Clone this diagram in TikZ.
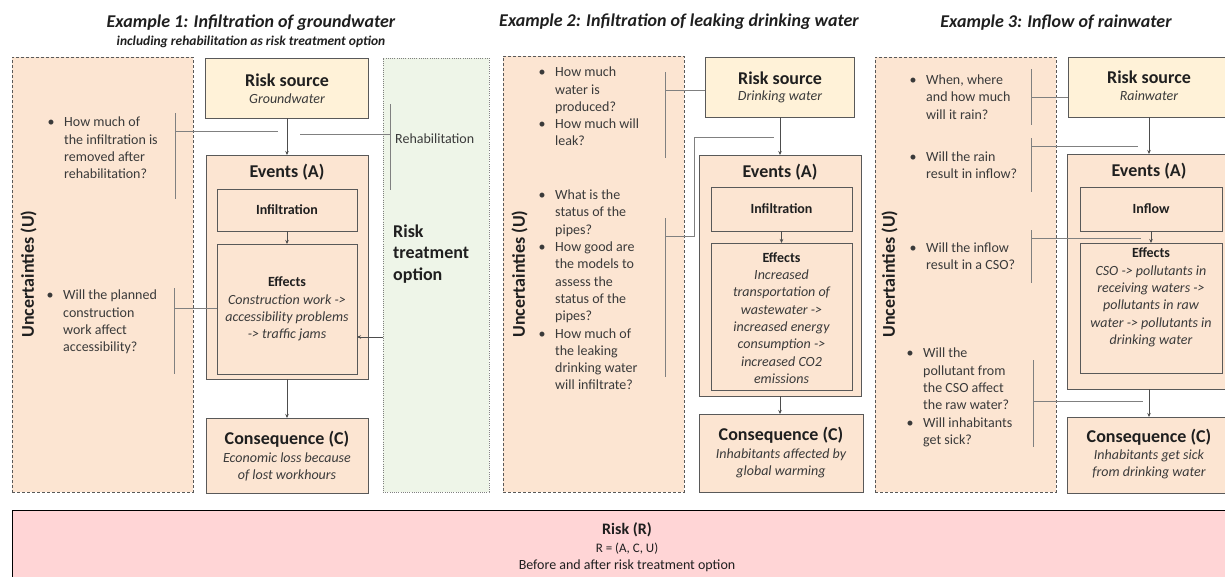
\documentclass[tikz,border=0pt]{standalone}
\usepackage{fontspec}
\setmainfont{Carlito}
\usetikzlibrary{arrows.meta}
\definecolor{rsfill}{HTML}{FFF2D8}
\definecolor{evfill}{HTML}{FCE5D2}
\definecolor{ufill}{HTML}{FCE5D2}
\definecolor{gfill}{HTML}{EEF5E8}
\definecolor{rfill}{HTML}{FFD5D6}
\definecolor{bordc}{HTML}{595959}
\definecolor{dashc}{HTML}{595959}
\definecolor{brkc}{HTML}{808080}
\definecolor{arrc}{HTML}{4D4D4D}
\definecolor{textc}{HTML}{1F1F1F}
\definecolor{qtextc}{HTML}{3A3A3A}
\newcommand\fs[2]{\fontsize{#1}{#2}\selectfont}
\begin{document}
\begin{tikzpicture}[x=1pt,y=-1pt,
  box/.style={draw=bordc,line width=1pt,outer sep=0pt,inner sep=0pt,anchor=north west},
  ubox/.style={box,draw=dashc,dash pattern=on 3pt off 2pt,line width=0.8pt,fill=ufill},
  gbox/.style={box,draw=brkc,dash pattern=on 1pt off 1.2pt,line width=0.8pt,fill=gfill},
  txt/.style={inner sep=0pt,text=textc},
  qtxt/.style={inner sep=0pt,text=qtextc,align=left,anchor=west,font=\fs{14}{17.3}},
  head/.style={txt,font=\fs{18}{21}\bfseries},
  sub/.style={txt,text=qtextc,font=\fs{14}{17}\itshape,align=center},
  small/.style={txt,font=\fs{14}{17}\bfseries},
  eff/.style={txt,text=qtextc,font=\fs{14}{17.3}\itshape,align=center},
  utitle/.style={txt,font=\fs{18}{21}\bfseries,rotate=90},
  ttl/.style={txt,font=\fs{18}{21}\bfseries\itshape},
  arr/.style={draw=arrc,line width=0.8pt,-{Stealth[length=4pt,width=3.5pt]}},
  brk/.style={draw=brkc,line width=0.9pt}]
\useasboundingbox (0,0) rectangle (1225,576);
\newcommand\bul{\llap{\textbullet\hspace{9.5pt}}}

% titles
\node[ttl] (t1) at (251,23) {Example 1: Infiltration of groundwater};
\node[txt,font=\fs{13.5}{16}\bfseries\itshape] (t1s) at (251,42) {including rehabilitation as risk treatment option};
\node[ttl] (t2) at (679,22) {Example 2: Infiltration of leaking drinking water};
\node[ttl] (t3) at (1056,23) {Example 3: Inflow of rainwater};

% ===== Example 1 =====
\node[ubox,minimum width=181pt,minimum height=435pt] (u1) at (12,57) {};
\node[gbox,minimum width=106pt,minimum height=434pt] (rto) at (383,58) {};
\node[box,fill=rsfill,minimum width=163pt,minimum height=60pt] (rs1) at (205,58) {};
\node[box,fill=evfill,minimum width=162pt,minimum height=224pt] (ev1) at (206,155) {};
\node[box,fill=evfill,minimum width=140pt,minimum height=42pt] (inf1) at (217,189) {};
\node[box,fill=evfill,minimum width=140pt,minimum height=130pt] (eff1) at (217,244) {};
\node[box,fill=evfill,minimum width=162pt,minimum height=75pt] (con1) at (206,418) {};

\node[head] (rs1t) at (287,80) {Risk source};
\node[sub] (rs1s) at (287,99) {Groundwater};
\node[head] (ev1t) at (287,172) {Events (A)};
\node[small] (inf1t) at (inf1.center) {Infiltration};
\node[eff] (eff1t) at (287,309) {{\bfseries\upshape\color{textc}Effects}\\Construction work ->\\accessibility problems\\-> traffic jams};
\node[head] (con1t) at (287,439) {Consequence (C)};
\node[sub] (con1s) at (287,466.5) {Economic loss because\\of lost workhours};

\node[utitle] (u1t) at (28.5,274) {Uncertainties (U)};
\node[qtxt] (q11) at (64,148) {\bul How much of\\the infiltration is\\removed after\\rehabilitation?};
\node[qtxt] (q12) at (63,322) {\bul Will the planned\\construction\\work affect\\accessibility?};
\node[txt,text=qtextc,font=\fs{14}{17},anchor=west] (reh) at (395,139) {Rehabilitation};
\node[txt,font=\fs{18}{21.5}\bfseries,align=left,anchor=west] (rtot) at (393,254) {Risk\\treatment\\option};

\draw[arr] (rs1.south -| ev1.north) -- (ev1.north);
\draw[arr] (inf1.south) -- (eff1.north);
\draw[arr] (ev1.south) -- (con1.north);
\coordinate (r1) at (383,337);
\draw[arr] (r1) -- (r1 -| eff1.east);

\coordinate (b11t) at (175,113); \coordinate (b11b) at (175,199);
\coordinate (b11m) at (175,131); \coordinate (b11e) at (278,131);
\draw[brk] (b11t) -- (b11b); \draw[brk] (b11m) -- (b11e);
\coordinate (b12t) at (174,288); \coordinate (b12b) at (174,374);
\coordinate (b12m) at (174,308);
\draw[brk] (b12t) -- (b12b); \draw[brk] (b12m) -- (b12m -| eff1.west);
\coordinate (brt) at (390,104); \coordinate (brb) at (390,190);
\coordinate (brm) at (390,134); \coordinate (bre) at (300,134);
\draw[brk] (brt) -- (brb); \draw[brk] (brm) -- (bre);

% ===== Example 2 =====
\node[ubox,minimum width=181pt,minimum height=436pt] (u2) at (503,56) {};
\node[box,fill=rsfill,minimum width=149pt,minimum height=60pt] (rs2) at (705,57) {};
\node[box,fill=evfill,minimum width=162pt,minimum height=241pt] (ev2) at (699,155) {};
\node[box,fill=evfill,minimum width=141pt,minimum height=44pt] (inf2) at (711,187) {};
\node[box,fill=evfill,minimum width=141pt,minimum height=147pt] (eff2) at (711,243) {};
\node[box,fill=evfill,minimum width=164pt,minimum height=78pt] (con2) at (699,414) {};

\node[head] (rs2t) at (780,78) {Risk source};
\node[sub] (rs2s) at (780,97) {Drinking water};
\node[head] (ev2t) at (780,172) {Events (A)};
\node[small] (inf2t) at (inf2.center) {Infiltration};
\node[eff] (eff2t) at (781.5,318) {{\bfseries\upshape\color{textc}Effects}\\Increased\\transportation of\\wastewater ->\\increased energy\\consumption ->\\increased CO2\\emissions};
\node[head] (con2t) at (781,435) {Consequence (C)};
\node[sub] (con2s) at (781,463) {Inhabitants affected by\\global warming};

\node[utitle] (u2t) at (519.5,274) {Uncertainties (U)};
\node[qtxt] (q21) at (555,106.5) {\bul How much\\water is\\produced?\\\bul How much will\\leak?};
\node[qtxt] (q22) at (555,290) {\bul What is the\\status of the\\pipes?\\\bul How good are\\the models to\\assess the\\status of the\\pipes?\\\bul How much of\\the leaking\\drinking water\\will infiltrate?};

\draw[arr] (rs2.south -| ev2.north) -- (ev2.north);
\draw[arr] (inf2.south) -- (eff2.north);
\draw[arr] (ev2.south) -- (ev2.south |- con2.north);

\coordinate (b21t) at (665,72); \coordinate (b21b) at (665,158);
\coordinate (b21m) at (665,90);
\draw[brk] (b21t) -- (b21b); \draw[brk] (b21m) -- (b21m -| rs2.west);
\coordinate (b22t) at (665,218); \coordinate (b22b) at (665,377);
\coordinate (b22m) at (665,236); \coordinate (b22k) at (694,236);
\coordinate (b22u) at (694,137); \coordinate (b22e) at (774,137);
\draw[brk] (b22t) -- (b22b); \draw[brk] (b22m) -- (b22k) -- (b22u) -- (b22e);

% ===== Example 3 =====
\node[ubox,minimum width=181pt,minimum height=435pt] (u3) at (875,57) {};
\node[box,fill=rsfill,minimum width=163pt,minimum height=60pt] (rs3) at (1068,57) {};
\node[box,fill=evfill,minimum width=164pt,minimum height=235pt] (ev3) at (1067,154) {};
\node[box,fill=evfill,minimum width=142pt,minimum height=44pt] (inf3) at (1080,187) {};
\node[box,fill=evfill,minimum width=142pt,minimum height=130pt] (eff3) at (1080,243) {};
\node[box,fill=evfill,minimum width=164pt,minimum height=76pt] (con3) at (1067,417) {};

\node[head] (rs3t) at (1149,77) {Risk source};
\node[sub] (rs3s) at (1149,96) {Rainwater};
\node[head] (ev3t) at (1149,171) {Events (A)};
\node[small] (inf3t) at (inf3.center) {Inflow};
\node[eff] (eff3t) at (1151,297.5) {{\bfseries\upshape\color{textc}Effects}\\CSO -> pollutants in\\receiving waters ->\\pollutants in raw\\water -> pollutants in\\drinking water};
\node[head] (con3t) at (1149,437) {Consequence (C)};
\node[sub] (con3s) at (1149,464) {Inhabitants get sick\\from drinking water};

\node[utitle] (u3t) at (889.5,274) {Uncertainties (U)};
\node[qtxt] (q31) at (926,97) {\bul When, where\\and how much\\will it rain?};
\node[qtxt] (q32) at (926,165.5) {\bul Will the rain\\result in inflow?};
\node[qtxt] (q33) at (926,256.5) {\bul Will the inflow\\result in a CSO?};
\node[qtxt] (q34) at (923,397.5) {\bul Will the\\pollutant from\\the CSO affect\\the raw water?\\\bul Will inhabitants\\get sick?};

\draw[arr] (rs3.south -| ev3.north) -- (ev3.north);
\draw[arr] (inf3.south) -- (eff3.north);
\draw[arr] (ev3.south) -- (con3.north);

\coordinate (b31t) at (1031,69); \coordinate (b31b) at (1031,125);
\coordinate (b31m) at (1031,97);
\draw[brk] (b31t) -- (b31b); \draw[brk] (b31m) -- (b31m -| rs3.west);
\coordinate (b32t) at (1031,138); \coordinate (b32b) at (1031,192);
\coordinate (b32m) at (1031,146); \coordinate (b32e) at (1138,146);
\draw[brk] (b32t) -- (b32b); \draw[brk] (b32m) -- (b32e);
\coordinate (b33t) at (1031,230); \coordinate (b33b) at (1031,283);
\coordinate (b33m) at (1031,238); \coordinate (b33e) at (1141,238);
\draw[brk] (b33t) -- (b33b); \draw[brk] (b33m) -- (b33e);
\coordinate (b34t) at (1033,360); \coordinate (b34b) at (1033,447);
\coordinate (b34m) at (1033,401); \coordinate (b34e) at (1143,401);
\draw[brk] (b34t) -- (b34b); \draw[brk] (b34m) -- (b34e);

% ===== Risk =====
\node[box,draw=black,fill=rfill,minimum width=1230pt,minimum height=80pt] (risk) at (12,510) {};
\node[txt,font=\fs{16}{19}\bfseries] (riskt) at (627,530) {Risk (R)};
\node[txt,font=\fs{13}{16}] (riskf) at (627,549) {R = (A, C, U)};
\node[txt,font=\fs{14}{17}] (riskb) at (627,566) {Before and after risk treatment option};
\end{tikzpicture}
\end{document}
